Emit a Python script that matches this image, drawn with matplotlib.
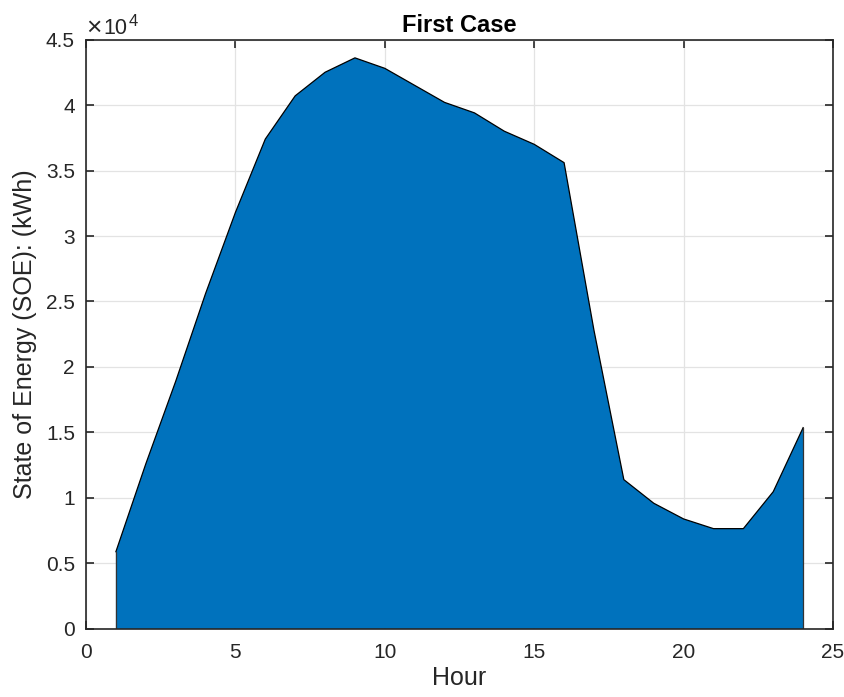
import numpy as np
import matplotlib.pyplot as plt

plt.rcParams['font.family'] = ['Liberation Sans', 'DejaVu Sans']

hours = np.arange(1, 25)
soe = [5900, 12600, 18900, 25600, 31800, 37400, 40700, 42500, 43600, 42800,
       41500, 40200, 39400, 38000, 37000, 35600, 22800, 11400, 9600, 8400,
       7660, 7660, 10480, 15370]

fig = plt.figure(figsize=(8.45, 6.97), dpi=100)
ax = fig.add_axes([0.1018, 0.0976, 0.884, 0.8457])

ax.fill_between(hours, soe, 0, facecolor='#0072BD', edgecolor='none', zorder=2)
ax.plot(hours, soe, color='black', lw=0.9, zorder=3)
ax.plot([hours[0], hours[0]], [0, soe[0]], color='#333333', lw=0.9, zorder=3)
ax.plot([hours[-1], hours[-1]], [0, soe[-1]], color='#333333', lw=0.9, zorder=3)

ax.set_xlim(0, 25)
ax.set_ylim(0, 45000)
ax.set_xticks([0, 5, 10, 15, 20, 25])
yt = np.arange(0, 45001, 5000)
ax.set_yticks(yt)
ax.set_yticklabels(['0', '0.5', '1', '1.5', '2', '2.5', '3', '3.5', '4', '4.5'])

ax.grid(True, color='#e3e3e3', lw=0.9, zorder=0)
ax.set_axisbelow(True)
ax.tick_params(direction='in', top=True, right=True, length=6, width=1.2,
               labelsize=15, colors='#262626')
ax.tick_params(axis='x', pad=10)
ax.tick_params(axis='y', pad=8)
for s in ax.spines.values():
    s.set_linewidth(1.2)
    s.set_color('#262626')
    s.set_zorder(5)

ax.set_xlabel('Hour', fontsize=18, color='#262626', labelpad=3)
ax.set_ylabel('State of Energy (SOE): (kWh)', fontsize=18, color='#262626', labelpad=6)
ax.set_title('First Case', fontsize=17, fontweight='bold', pad=5.5)

# exponent label, MATLAB style
anchor = (0.0, 1.0)
for txt, dx, dy, fs in [('\u00d7', 0, 5, 19), ('10', 17, 6, 15.5), ('4', 43, 14, 12)]:
    ax.annotate(txt, xy=anchor, xycoords='axes fraction', xytext=(dx, dy),
                textcoords='offset pixels', fontsize=fs, color='#262626',
                ha='left', va='baseline')

fig.savefig('out.png', dpi=100)
